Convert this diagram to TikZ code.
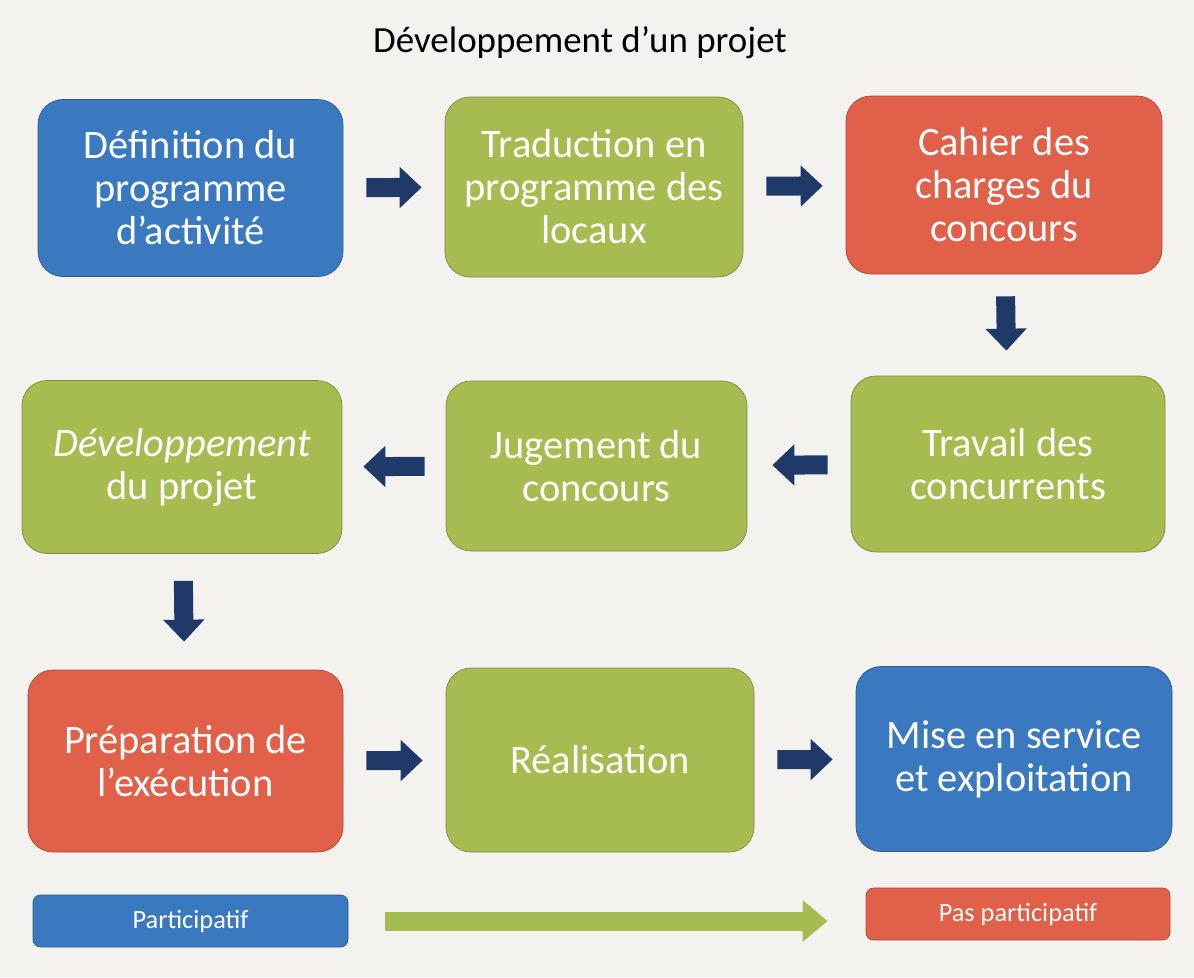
\documentclass[tikz,border=0pt]{standalone}
\usepackage{fontspec}
\setmainfont{Carlito}
\usetikzlibrary{arrows.meta}
\definecolor{bleu}{HTML}{3A79BF}
\definecolor{vert}{HTML}{A6BB50}
\definecolor{rouge}{HTML}{E0604A}
\definecolor{marine}{HTML}{1F3A68}
\definecolor{papier}{HTML}{F3F2EF}
\begin{document}
\begin{tikzpicture}[
	boite/.style={draw=#1!75!black,fill=#1,rounded corners=0.5cm,text=white,align=center,inner sep=0pt,font=\fontsize{23}{24.5}\selectfont},
	legende/.style={draw=#1!75!black,fill=#1,rounded corners=0.15cm,text=white,align=center,inner sep=0pt,font=\fontsize{15}{17}\selectfont},
	fleche/.style={draw=marine,line width=0.38cm,-{Triangle[width=0.8cm,length=0.44cm]},shorten <=0.46cm,shorten >=0.46cm}]
	\fill[papier] (0,0) rectangle (23.88,-19.54);
	\useasboundingbox (0,0) rectangle (23.88,-19.54);
	\node[font=\fontsize{21}{25}\selectfont] (T) at (11.6,-0.85) {Développement d’un projet};
	\node[boite=bleu,minimum width=6.1cm,minimum height=3.54cm] (A) at (3.81,-3.76) {Définition du\\programme\\d’activité};
	\node[boite=vert,minimum width=5.96cm,minimum height=3.6cm] (B) at (11.88,-3.74) {Traduction en\\programme des\\locaux};
	\node[boite=rouge,minimum width=6.32cm,minimum height=3.56cm] (C) at (20.08,-3.7) {Cahier des\\charges du\\concours};
	\node[boite=vert,minimum width=6.28cm,minimum height=3.52cm] (D) at (20.16,-9.28) {Travail des\\concurrents};
	\node[boite=vert,minimum width=6.02cm,minimum height=3.4cm] (E) at (11.93,-9.32) {Jugement du\\concours};
	\node[boite=vert,minimum width=6.4cm,minimum height=3.46cm] (F) at (3.64,-9.34) {\textit{Développement}\\du projet};
	\node[boite=rouge,minimum width=6.3cm,minimum height=3.64cm] (G) at (3.71,-15.22) {Préparation de\\l’exécution};
	\node[boite=vert,minimum width=6.16cm,minimum height=3.68cm] (H) at (12.0,-15.2) {Réalisation};
	\node[boite=bleu,minimum width=6.32cm,minimum height=3.7cm] (I) at (20.28,-15.18) {Mise en service\\et exploitation};
	\node[legende=bleu,minimum width=6.3cm,minimum height=1.04cm] (J) at (3.81,-18.42) {Participatif};
	\node[legende=rouge,minimum width=6.08cm,minimum height=1.04cm] (K) at (20.36,-18.28) {Pas participatif};
	% fleches
	\draw[fleche] (A) -- (B);
	\draw[fleche] (B) -- (C);
	\draw[fleche,shorten <=0.44cm,shorten >=0.5cm] (C) -- (D);
	\draw[fleche,shorten >=0.5cm] (D) -- (E);
	\draw[fleche,shorten <=0.42cm,shorten >=0.42cm] (E) -- (F);
	\draw[fleche,shorten <=0.54cm,shorten >=0.56cm] (F) -- (G);
	\draw[fleche] (G) -- (H);
	\draw[fleche] (H) -- (I);
	\draw[vert,line width=0.38cm,-{Triangle[width=0.8cm,length=0.5cm]},shorten <=0.74cm,shorten >=0.76cm] (J) -- (J -| K.west);
\end{tikzpicture}
\end{document}
